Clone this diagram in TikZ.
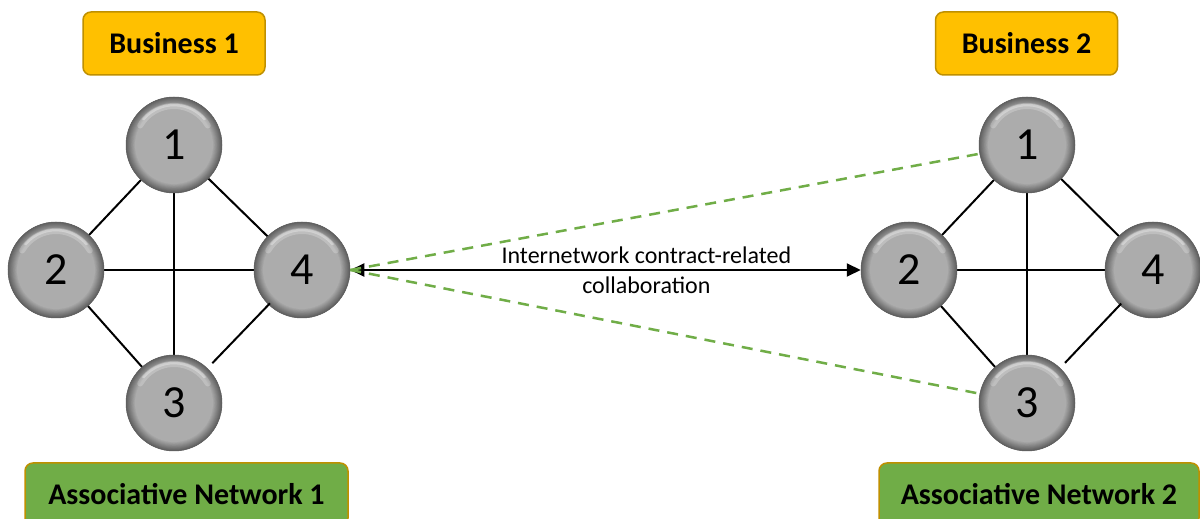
\documentclass[tikz,border=0pt]{standalone}
\usepackage{fontspec}
\setmainfont{Carlito}
\usetikzlibrary{arrows.meta,shapes.geometric}

\definecolor{gold}{RGB}{255,192,0}
\definecolor{goldedge}{RGB}{191,144,0}
\definecolor{leaf}{RGB}{112,173,71}
\definecolor{ballmid}{RGB}{172,172,172}
\definecolor{balldark}{RGB}{96,96,96}

\tikzset{
  % grey ball: flat face with a rim that darkens towards the edge,
  % and a soft light band just inside the top
  ball/.style={circle, minimum size=96pt, inner sep=0pt, fill=balldark,
    draw=balldark, line width=0.5pt,
    font=\fontsize{46}{50}\selectfont,
    path picture={
      \foreach \i in {0,...,10}{
        \pgfmathtruncatemacro\mix{10*\i}
        \fill[ballmid!\mix!balldark]
          (path picture bounding box.center) circle[radius=48pt-0.9pt*\i];
      }
      \draw[white, opacity=0.22, line width=6pt, line cap=round]
        ([shift={(150:39pt)}]path picture bounding box.center)
        arc[start angle=150, end angle=30, radius=39pt];
      \draw[white, opacity=0.35, line width=2.5pt, line cap=round]
        ([shift={(140:40pt)}]path picture bounding box.center)
        arc[start angle=140, end angle=40, radius=40pt];
    }},
  label box/.style={rounded corners=8pt, draw=goldedge, line width=1.5pt,
    minimum height=63pt, inner sep=0pt,
    font=\bfseries\fontsize{30}{36}\selectfont},
  bizbox/.style={label box, fill=gold, minimum width=182pt},
  netbox/.style={label box, fill=leaf},
  link/.style={line width=2pt, black},
  tie/.style={line width=2.5pt, leaf, dash pattern=on 11pt off 8pt},
}

\begin{document}
\begin{tikzpicture}[x=1pt,y=1pt]
\clip (0,0) rectangle (1200,519);
\fill[white] (0,0) rectangle (1200,519);

% headings
\node[bizbox] (b1) at (174,475.5) {Business 1};
\node[bizbox] (b2) at (1026.5,475.5) {Business 2};
\node[netbox, minimum width=323pt] (a1) at (186.5,24.5) {Associative Network 1};
\node[netbox, minimum width=320pt] (a2) at (1039,24.5) {Associative Network 2};

% first network
\coordinate (c1) at (174,374);
\coordinate (c2) at (56,249);
\coordinate (c3) at (174,116);
\coordinate (c4) at (302,249);
\draw[link] (c1) -- (c2);
\draw[link] (c1) -- (c3);
\draw[link] (c1) -- (c4);
\draw[link] (c2) -- (c4);
\draw[link] (c2) -- (c3);
\node[ball] (L1) at (c1) {1};
\node[ball] (L2) at (c2) {2};
\node[ball] (L3) at (c3) {3};
\node[ball] (L4) at (c4) {4};
\draw[link, shorten >=7pt, shorten <=-2pt] (L4) -- (L3);

% second network
\coordinate (d1) at (1027,374);
\coordinate (d2) at (909,249);
\coordinate (d3) at (1027,116);
\coordinate (d4) at (1153,249);
\draw[link] (d1) -- (d2);
\draw[link] (d1) -- (d3);
\draw[link] (d1) -- (d4);
\draw[link] (d2) -- (d4);
\draw[link] (d2) -- (d3);
\node[ball] (R1) at (d1) {1};
\node[ball] (R2) at (d2) {2};
\node[ball] (R3) at (d3) {3};
\node[ball] (R4) at (d4) {4};
\draw[link, shorten >=7pt, shorten <=-2pt] (R4) -- (R3);

% collaboration between the networks
\draw[line width=2pt, {Triangle[length=14pt,width=13pt]}-{Triangle[length=14pt,width=13pt]}]
  (L4) -- node[pos=0.58, align=center, font=\fontsize{24}{30}\selectfont]
  {Internetwork contract-related\\collaboration} (R2);
\draw[tie] (L4.east) -- (R1);
\draw[tie] (L4.east) -- (R3);
\end{tikzpicture}
\end{document}
